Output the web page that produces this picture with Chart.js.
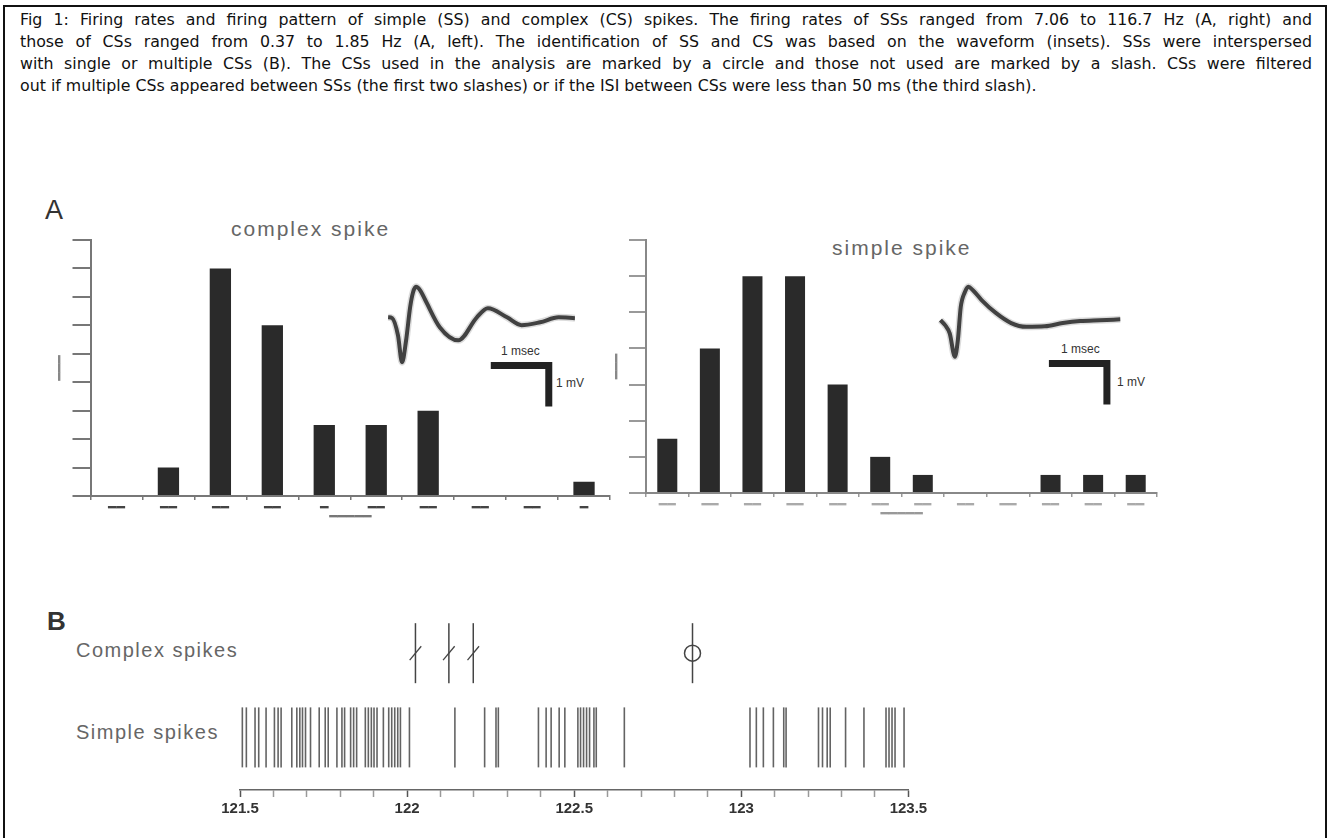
<!DOCTYPE html>
<html>
<head>
<meta charset="utf-8">
<script src="https://cdn.jsdelivr.net/npm/chart.js@4.4.0/dist/chart.umd.min.js"></script>
<style>
html, body { margin: 0; padding: 0; background: #fff; width: 1330px; height: 838px; overflow: hidden; }
#frame { position: absolute; left: 3px; top: 5px; width: 1320px; height: 900px; border: 2px solid #111; }
#caption { position: absolute; left: 20px; top: 9px; width: 1292px; font-family: "DejaVu Sans", sans-serif; font-size: 15.8px; line-height: 22px; color: #111; }
#caption div { text-align: justify; text-align-last: justify; }
#caption div.last { text-align-last: left; }
.lbl { position: absolute; font-family: "Liberation Sans", Arial, sans-serif; color: #666; white-space: nowrap; line-height: 1; }
canvas { position: absolute; }
</style>
</head>
<body>
<div id="frame"></div>
<div id="caption">
  <div>Fig 1: Firing rates and firing pattern of simple (SS) and complex (CS) spikes. The firing rates of SSs ranged from 7.06 to 116.7 Hz (A, right) and</div>
  <div>those of CSs ranged from 0.37 to 1.85 Hz (A, left). The identification of SS and CS was based on the waveform (insets). SSs were interspersed</div>
  <div>with single or multiple CSs (B). The CSs used in the analysis are marked by a circle and those not used are marked by a slash. CSs were filtered</div>
  <div class="last">out if multiple CSs appeared between SSs (the first two slashes) or if the ISI between CSs were less than 50 ms (the third slash).</div>
</div>

<div class="lbl" style="left:45px;top:197px;font-size:27px;color:#333;">A</div>
<div class="lbl" style="left:231px;top:218px;font-size:21px;letter-spacing:2px;">complex spike</div>
<div class="lbl" style="left:832px;top:237px;font-size:21px;letter-spacing:2px;">simple spike</div>
<div class="lbl" style="left:501px;top:345px;font-size:12px;color:#333;">1 msec</div>
<div class="lbl" style="left:556px;top:377px;font-size:12px;color:#333;">1 mV</div>
<div class="lbl" style="left:1061px;top:343px;font-size:12px;color:#333;">1 msec</div>
<div class="lbl" style="left:1117px;top:376px;font-size:12px;color:#333;">1 mV</div>

<div class="lbl" style="left:47px;top:608px;font-size:26px;color:#333;font-weight:bold;">B</div>
<div class="lbl" style="left:76px;top:640px;font-size:20px;letter-spacing:1.5px;">Complex spikes</div>
<div class="lbl" style="left:76px;top:722px;font-size:20px;letter-spacing:1.5px;">Simple spikes</div>

<canvas id="csHist"></canvas>
<canvas id="ssHist"></canvas>
<canvas id="csWave"></canvas>
<canvas id="ssWave"></canvas>
<canvas id="raster"></canvas>

<script>
// --- A: histogram bins (labels are unreadable in the figure, shown as dashes) ---
const csBins = ['━━', '━━', '━━', '━━', '━', '━━', '━━', '━━', '━━', '━'];
const csCounts = [0, 1, 8, 6, 2.5, 2.5, 3, 0, 0, 0.5];
const ssBins = ['━━', '━━', '━━', '━━', '━━', '━━', '━━', '━━', '━━', '━━', '━━', '━━'];
const ssCounts = [1.5, 4, 6, 6, 3, 1, 0.5, 0, 0, 0.5, 0.5, 0.5];

// --- A insets: averaged waveforms (ms, mV) ---
const csWaveT = [0.14, 0.21, 0.31, 0.38, 0.45, 0.52, 0.57, 0.62, 0.69, 0.78, 1.03, 1.35, 1.67, 1.86, 2.19, 2.44, 2.76, 3.08, 3.36];
const csWaveV = [-0.15, -0.17, -0.59, -1.24, -0.71, 0.10, 0.46, 0.59, 0.51, 0.27, -0.39, -0.71, -0.15, 0.07, -0.15, -0.34, -0.27, -0.15, -0.17];
const ssWaveT = [0.18, 0.26, 0.34, 0.43, 0.48, 0.53, 0.60, 0.66, 0.74, 0.89, 1.14, 1.40, 1.66, 1.98, 2.29, 2.59, 2.93, 3.28];
const ssWaveV = [-0.22, -0.34, -0.54, -1.11, -0.71, 0.10, 0.46, 0.59, 0.51, 0.27, -0.05, -0.29, -0.38, -0.37, -0.29, -0.24, -0.22, -0.20];
const SCALE_MS = 1, SCALE_MV = 1;

// --- B: spike times (s) ---
const simpleSpikeTimes = [
  121.507, 121.519, 121.545, 121.556, 121.578, 121.603, 121.614, 121.623, 121.655, 121.670,
  121.679, 121.687, 121.696, 121.711, 121.737, 121.755, 121.764, 121.790, 121.805, 121.813,
  121.831, 121.840, 121.849, 121.875, 121.884, 121.893, 121.901, 121.910, 121.929, 121.945,
  121.954, 121.963, 121.972, 121.980, 122.007, 122.143, 122.232, 122.266, 122.273, 122.393,
  122.416, 122.431, 122.455, 122.472, 122.511, 122.519, 122.528, 122.537, 122.546, 122.559,
  122.566, 122.650, 123.026, 123.045, 123.066, 123.096, 123.127, 123.134, 123.231, 123.243,
  123.257, 123.266, 123.312, 123.367, 123.433, 123.442, 123.451, 123.460, 123.487
];
const complexFiltered = [122.025, 122.125, 122.198];   // slashed
const complexUsed = [122.854];                          // circled
const rasterTicks = [121.5, 122, 122.5, 123, 123.5];

function place(id, l, t, w, h) {
  const c = document.getElementById(id);
  c.width = w; c.height = h;
  c.style.left = l + 'px'; c.style.top = t + 'px';
  c.style.width = w + 'px'; c.style.height = h + 'px';
  return c;
}

const dashFont = { family: 'DejaVu Sans Mono', size: 14 };

function histogram(canvas, labels, counts, yMax, o) {
  return new Chart(canvas, {
    type: 'bar',
    data: {
      labels: labels,
      datasets: [{ data: counts, backgroundColor: '#2a2a2a', barPercentage: o.barPct, categoryPercentage: 1 }]
    },
    options: {
      responsive: false, animation: false, devicePixelRatio: 1, events: [],
      layout: { padding: { top: 15, right: 5, left: 0, bottom: 0 } },
      plugins: { legend: { display: false }, tooltip: { enabled: false } },
      scales: {
        x: {
          grid: { drawOnChartArea: false, tickLength: 4, color: o.tickColor, lineWidth: 1.5 },
          border: { color: o.axisColor, width: 2 },
          ticks: { color: o.labelColor, font: dashFont, padding: 0, maxRotation: 0, autoSkip: false },
          title: { display: true, text: '━━━━━', color: o.titleColor, font: dashFont, padding: { top: 0, bottom: 4.6 } },
          afterFit: s => { s.height = 34; s.paddingLeft = 0; s.paddingRight = 0; }
        },
        y: {
          min: 0, max: yMax,
          ticks: { stepSize: 1, callback: () => '', padding: 0 },
          grid: { drawOnChartArea: false, tickLength: o.tickLen, color: o.tickColor, lineWidth: 2 },
          border: { color: o.axisColor, width: 2 },
          title: { display: true, text: '━━━', color: '#888', font: dashFont, padding: { top: o.yTitlePad, bottom: 0 } },
          afterFit: s => { s.width = o.yWidth; s.paddingTop = 0; s.paddingBottom = 0; }
        }
      }
    }
  });
}

function inset(canvas, t, v, barT, barV) {
  const wave = t.map((x, i) => ({ x: x, y: v[i] }));
  const bar = [
    { x: barT, y: barV },
    { x: barT + SCALE_MS, y: barV },
    { x: barT + SCALE_MS, y: barV - SCALE_MV }
  ];
  return new Chart(canvas, {
    type: 'scatter',
    data: {
      datasets: [
        { data: wave, showLine: true, borderColor: 'rgba(140,140,140,0.3)', borderWidth: 7, pointRadius: 0, cubicInterpolationMode: 'monotone' },
        { data: wave, showLine: true, borderColor: '#222', borderWidth: 4, pointRadius: 0, cubicInterpolationMode: 'monotone' },
        { data: bar, showLine: true, borderColor: '#222', borderWidth: 7, pointRadius: 0, borderCapStyle: 'butt', borderJoinStyle: 'miter' }
      ]
    },
    options: {
      responsive: false, animation: false, devicePixelRatio: 1, events: [],
      layout: { padding: 0 },
      plugins: { legend: { display: false }, tooltip: { enabled: false } },
      scales: {
        x: { type: 'linear', display: false, min: 0, max: 4 },
        y: { type: 'linear', display: false, min: -2.5, max: 1 }
      }
    }
  });
}

// panel A
histogram(place('csHist', 20, 225, 595, 305), csBins, csCounts, 9, {
  barPct: 0.41, tickLen: 18, tickColor: '#777', axisColor: '#777', labelColor: '#444', titleColor: '#777', yWidth: 70.5, yTitlePad: 31.6
});
histogram(place('ssHist', 600, 225, 562, 302), ssBins, ssCounts, 7, {
  barPct: 0.47, tickLen: 17, tickColor: '#999', axisColor: '#888', labelColor: '#aaa', titleColor: '#999', yWidth: 46, yTitlePad: 8.6
});
inset(place('csWave', 380, 270, 232, 144), csWaveT, csWaveV, 1.91, -1.32);
inset(place('ssWave', 930, 270, 232, 144), ssWaveT, ssWaveV, 2.05, -1.27);

// panel B
const SS_ROW = 1, CS_ROW = 2.6;
const allComplex = complexFiltered.concat(complexUsed);
new Chart(place('raster', 200, 590, 740, 240), {
  type: 'scatter',
  data: {
    datasets: [
      { data: simpleSpikeTimes.map(t => ({ x: t, y: SS_ROW })), pointStyle: 'line', pointRotation: 90, pointRadius: 30,
        pointBorderColor: 'rgba(60,60,60,0.8)', pointBorderWidth: 1.6, clip: false },
      { data: allComplex.map(t => ({ x: t, y: CS_ROW })), pointStyle: 'line', pointRotation: 90, pointRadius: 30,
        pointBorderColor: '#444', pointBorderWidth: 1.5, clip: false },
      { data: complexFiltered.map(t => ({ x: t, y: CS_ROW })), pointStyle: 'line', pointRotation: -50, pointRadius: 9,
        pointBorderColor: '#444', pointBorderWidth: 1.3, clip: false },
      { data: complexUsed.map(t => ({ x: t, y: CS_ROW })), pointStyle: 'circle', pointRadius: 8,
        pointBackgroundColor: 'rgba(0,0,0,0)', pointBorderColor: '#444', pointBorderWidth: 1.5, clip: false }
    ]
  },
  options: {
    responsive: false, animation: false, devicePixelRatio: 1, events: [],
    layout: { padding: { left: 40, right: 17, top: 17.6, bottom: 0 } },
    plugins: { legend: { display: false }, tooltip: { enabled: false } },
    scales: {
      x: {
        type: 'linear', min: 121.5, max: 123.5,
        ticks: {
          stepSize: 0.1, autoSkip: false, maxRotation: 0, padding: 3, color: '#333',
          font: { family: 'Liberation Sans', size: 15, weight: 'bold' },
          callback: v => {
            const hit = rasterTicks.find(r => Math.abs(r - v) < 1e-6);
            return hit === undefined ? '' : String(hit);
          }
        },
        grid: {
          drawOnChartArea: false, tickLength: 7,
          tickColor: c => rasterTicks.some(r => Math.abs(r - c.tick.value) < 1e-6) ? '#555' : '#999',
          tickWidth: 1.5
        },
        border: { color: '#666', width: 1.5 },
        afterFit: s => { s.height = 40; s.paddingLeft = 0; s.paddingRight = 0; }
      },
      y: { type: 'linear', display: false, min: 0, max: 3.2 }
    }
  }
});
</script>
</body>
</html>
